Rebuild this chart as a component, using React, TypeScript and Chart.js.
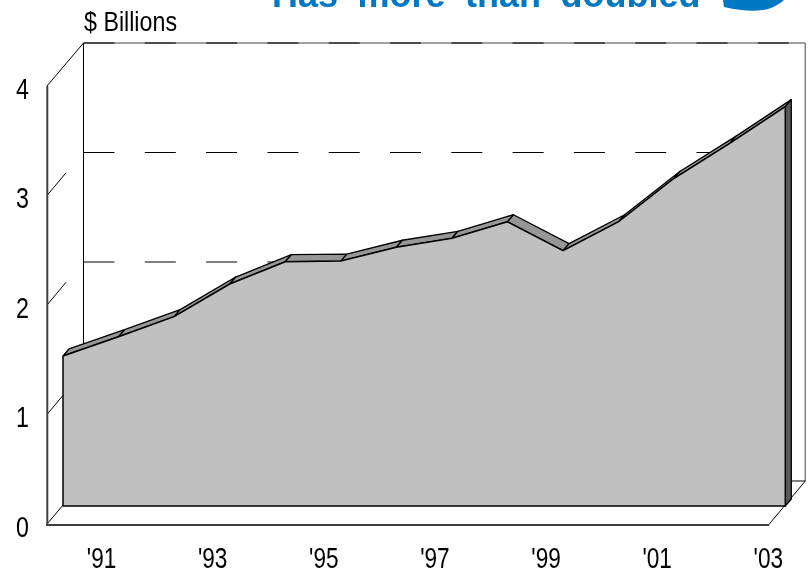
import React, { useEffect, useRef } from "react";
import { Chart, registerables } from "chart.js";

Chart.register(...registerables);

const years = ["'90", "'91", "'92", "'93", "'94", "'95", "'96", "'97", "'98", "'99", "'00", "'01", "'02", "'03"];
const billions = [1.37, 1.546, 1.729, 2.027, 2.231, 2.237, 2.363, 2.445, 2.596, 2.332, 2.596, 2.993, 3.312, 3.647];
const unitLabel = "$ Billions";
const titleText = "Has more than doubled";

const FONT = '"Liberation Sans", Arial, sans-serif';
const BLUE = "#0078C4";
const WALL = { dx: 36, dy: -43 };
const PLANE = { dx: 16, dy: -18 };
const DEPTH = { dx: 6, dy: -7 };

function line(ctx: CanvasRenderingContext2D, x1: number, y1: number, x2: number, y2: number, color: string, w: number) {
  ctx.beginPath();
  ctx.moveTo(x1, y1);
  ctx.lineTo(x2, y2);
  ctx.strokeStyle = color;
  ctx.lineWidth = w;
  ctx.stroke();
}

function squeezed(ctx: CanvasRenderingContext2D, text: string, x: number, y: number, sx: number) {
  ctx.save();
  ctx.translate(x, y);
  ctx.scale(sx, 1);
  ctx.fillText(text, 0, 0);
  ctx.restore();
}

const box3d = {
  id: "box3d",
  beforeDatasetsDraw(chart: any) {
    const { ctx, scales } = chart;
    const x = scales.x;
    const y = scales.y;
    const L = x.left;
    const R = x.right;
    const B = y.getPixelForValue(0);
    const T = y.getPixelForValue(4);
    ctx.save();

    // titles
    ctx.fillStyle = BLUE;
    ctx.font = 'bold 36px "Liberation Sans", Arial, sans-serif';
    ctx.textAlign = "left";
    ctx.textBaseline = "alphabetic";
    (ctx as any).wordSpacing = "9.5px";
    ctx.fillText(titleText, 272, 7);
    (ctx as any).wordSpacing = "0px";
    ctx.beginPath();
    ctx.moveTo(723, 0);
    ctx.lineTo(724, 7);
    ctx.quadraticCurveTo(755, 14, 771, 8);
    ctx.quadraticCurveTo(780, 4, 784, 0);
    ctx.closePath();
    ctx.fill();
    ctx.fillStyle = "#000";
    ctx.font = "28px " + FONT;
    squeezed(ctx, unitLabel, 84, 31, 0.83);

    // tick labels, condensed like the reference's narrow face
    ctx.font = "29px " + FONT;
    y.ticks.forEach((t: any) => {
      const py = y.getPixelForValue(t.value);
      const w = ctx.measureText(String(t.value)).width * 0.8;
      squeezed(ctx, String(t.value), 29 - w, py + 12.5, 0.8);
    });
    x.ticks.forEach((t: any, i: number) => {
      if (i % 2 === 1) {
        const w = ctx.measureText(years[i]).width * 0.78;
        squeezed(ctx, years[i], x.getPixelForTick(i) - 1 - w / 2, 568, 0.78);
      }
    });

    // back wall
    const bL = L + WALL.dx + 0.5;
    const bR = R + WALL.dx;
    line(ctx, bR, T + WALL.dy, bR, B + WALL.dy, "#808080", 1.5);
    line(ctx, bL, B + WALL.dy, bR, B + WALL.dy, "#000", 1);
    line(ctx, bL, T + WALL.dy, bL, B + WALL.dy, "#000", 1);
    line(ctx, bL, T + WALL.dy, bR, T + WALL.dy, "#808080", 1.5);
    ctx.setLineDash([31, 30.3]);
    [2, 3, 4].forEach((v) => {
      const py = y.getPixelForValue(v) + WALL.dy;
      line(ctx, bL, py, bR, py, v === 4 ? "#333" : "#000", v === 4 ? 1.5 : 1);
    });
    ctx.setLineDash([]);

    // side wall ticks
    const frac = 19 / 36;
    [1, 2, 3].forEach((v) => {
      const py = y.getPixelForValue(v);
      line(ctx, L, py, L + WALL.dx * frac, py + WALL.dy * frac, "#000", 1);
    });
    line(ctx, L, T, bL, T + WALL.dy, "#000", 1);

    // floor
    line(ctx, L, B, bL, B + WALL.dy, "#000", 1);
    line(ctx, R, B, bR, B + WALL.dy, "#000", 1);
    line(ctx, L + 0.3, T, L + 0.3, B + 2, "#404040", 2);
    line(ctx, L - 1, B + 1, R, B + 1, "#404040", 2);
    ctx.restore();

    // series plane
    ctx.save();
    ctx.translate(PLANE.dx, PLANE.dy);
    const pts = chart.getDatasetMeta(0).data;
    ctx.lineWidth = 1.3;
    ctx.strokeStyle = "#000";
    ctx.lineJoin = "round";
    for (let i = 0; i < pts.length - 1; i++) {
      ctx.beginPath();
      ctx.moveTo(pts[i].x, pts[i].y);
      ctx.lineTo(pts[i + 1].x, pts[i + 1].y);
      ctx.lineTo(pts[i + 1].x + DEPTH.dx, pts[i + 1].y + DEPTH.dy);
      ctx.lineTo(pts[i].x + DEPTH.dx, pts[i].y + DEPTH.dy);
      ctx.closePath();
      ctx.fillStyle = "#969696";
      ctx.fill();
      ctx.stroke();
    }
    const last = pts[pts.length - 1];
    ctx.beginPath();
    ctx.moveTo(last.x, last.y);
    ctx.lineTo(last.x + DEPTH.dx, last.y + DEPTH.dy);
    ctx.lineTo(last.x + DEPTH.dx, B + DEPTH.dy);
    ctx.lineTo(last.x, B);
    ctx.closePath();
    ctx.fillStyle = "#595959";
    ctx.fill();
    ctx.stroke();
  },
  afterDatasetsDraw(chart: any) {
    const { ctx, scales } = chart;
    const pts = chart.getDatasetMeta(0).data;
    const B = scales.y.getPixelForValue(0);
    const first = pts[0];
    const last = pts[pts.length - 1];
    ctx.beginPath();
    ctx.moveTo(first.x, first.y);
    ctx.lineTo(first.x, B);
    ctx.lineTo(last.x, B);
    ctx.lineTo(last.x, last.y);
    ctx.strokeStyle = "#000";
    ctx.lineWidth = 1.5;
    ctx.stroke();
    ctx.restore();
  },
};

export default function App() {
  const ref = useRef<HTMLCanvasElement>(null);
  useEffect(() => {
    const chart = new Chart(ref.current as HTMLCanvasElement, {
      type: "line",
      data: {
        labels: years,
        datasets: [
          {
            data: billions,
            backgroundColor: "#C0C0C0",
            borderColor: "#000",
            borderWidth: 1.5,
            fill: "origin",
            pointRadius: 0,
            tension: 0,
            clip: false,
          } as any,
        ],
      },
      options: {
        animation: false,
        responsive: false,
        layout: { padding: { left: 0, right: 39.7, top: 86, bottom: 0 } },
        plugins: { legend: { display: false }, title: { display: false }, tooltip: { enabled: false } },
        scales: {
          x: {
            type: "category",
            offset: false,
            afterFit: (s: any) => {
              s.height = 45;
            },
            grid: { display: false, drawTicks: false },
            border: { display: false },
            ticks: { autoSkip: false, maxRotation: 0, minRotation: 0, display: false },
          },
          y: {
            min: 0,
            max: 4,
            afterFit: (s: any) => {
              s.width = 47;
            },
            grid: { display: false, drawTicks: false },
            border: { display: false },
            ticks: { stepSize: 1, display: false },
          },
        },
      },
      plugins: [box3d],
    } as any);
    return () => chart.destroy();
  }, []);
  return <canvas ref={ref} width={809} height={569} style={{ position: "absolute", left: 0, top: 0, display: "block" }} />;
}
